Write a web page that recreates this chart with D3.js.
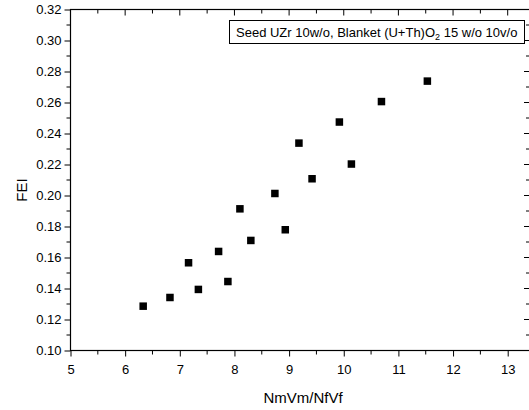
<!DOCTYPE html>
<html>
<head>
<meta charset="utf-8">
<script src="https://cdn.jsdelivr.net/npm/d3@7"></script>
<style>
  body { margin: 0; background: #fff; }
  text { font-family: "Liberation Sans", Arial, sans-serif; fill: #000; }
</style>
</head>
<body>
<div id="canvas"></div>
<script>
"use strict";

let svgWidth = 529;
let svgHeight = 410;

/* Data */
let ratioValues = [6.33, 6.82, 7.16, 7.34, 7.71, 7.88, 8.10, 8.30, 8.74, 8.93, 9.18, 9.42, 9.92, 10.14, 10.69, 11.53];
let feiValues = [0.1286, 0.1342, 0.1566, 0.1394, 0.1639, 0.1445, 0.1914, 0.1710, 0.2013, 0.1779, 0.2338, 0.2108, 0.2474, 0.2203, 0.2606, 0.2738];
let xTicks = [5, 6, 7, 8, 9, 10, 11, 12, 13];
let yTicks = [0.10, 0.12, 0.14, 0.16, 0.18, 0.20, 0.22, 0.24, 0.26, 0.28, 0.30, 0.32];

let points = ratioValues.map((v, i) => ({ x: v, y: feiValues[i] }));

let svg = d3.select("#canvas")
  .append("svg")
  .attr("width", svgWidth)
  .attr("height", svgHeight);

/* Scales */
let xScale = d3.scaleLinear()
  .domain([5, 13])
  .range([70.5, 507.7]);

let yScale = d3.scaleLinear()
  .domain([0.10, 0.32])
  .range([350.5, 9.5]);

let plotLeft = xScale(5);
let plotRight = 530;
let plotTop = yScale(0.32);
let plotBottom = yScale(0.10);

let xMinor = d3.range(5.5, 13.5, 1);
let yMinor = d3.range(0.11, 0.32, 0.02);

/* Bottom axis */
let xAxis = d3.axisBottom(xScale)
  .tickValues(xTicks)
  .tickFormat(d3.format("d"))
  .tickSizeInner(6)
  .tickSizeOuter(0)
  .tickPadding(8);

let gx = svg.append("g")
  .attr("transform", `translate(0,${plotBottom})`)
  .call(xAxis);
gx.select(".domain").remove();
gx.selectAll("text").attr("font-size", "13px");

svg.append("g")
  .attr("transform", `translate(0,${plotBottom})`)
  .selectAll("line")
  .data(xMinor)
  .enter()
  .append("line")
  .attr("x1", d => xScale(d))
  .attr("x2", d => xScale(d))
  .attr("y1", 0)
  .attr("y2", 4)
  .attr("stroke", "#000");

/* Top axis, ticks pointing in */
let topTicks = xTicks.map(d => ({ v: d, len: 6 })).concat(xMinor.map(d => ({ v: d, len: 4 })));
svg.append("g")
  .selectAll("line")
  .data(topTicks)
  .enter()
  .append("line")
  .attr("x1", d => xScale(d.v))
  .attr("x2", d => xScale(d.v))
  .attr("y1", plotTop)
  .attr("y2", d => plotTop + d.len)
  .attr("stroke", "#000");

/* Left axis */
let yAxis = d3.axisLeft(yScale)
  .tickValues(yTicks)
  .tickFormat(d3.format(".2f"))
  .tickSizeInner(6)
  .tickSizeOuter(0)
  .tickPadding(3);

let gy = svg.append("g")
  .attr("transform", `translate(${plotLeft},0)`)
  .call(yAxis);
gy.select(".domain").remove();
gy.selectAll("text").attr("font-size", "13px");

svg.append("g")
  .attr("transform", `translate(${plotLeft},0)`)
  .selectAll("line")
  .data(yMinor)
  .enter()
  .append("line")
  .attr("x1", -4)
  .attr("x2", 0)
  .attr("y1", d => yScale(d))
  .attr("y2", d => yScale(d))
  .attr("stroke", "#000");

/* Right axis, ticks pointing in */
let rightTicks = yTicks.map(d => ({ v: d, len: 6 })).concat(yMinor.map(d => ({ v: d, len: 4 })));
svg.append("g")
  .selectAll("line")
  .data(rightTicks)
  .enter()
  .append("line")
  .attr("x1", plotRight)
  .attr("x2", d => plotRight - d.len)
  .attr("y1", d => yScale(d.v))
  .attr("y2", d => yScale(d.v))
  .attr("stroke", "#000");

/* Frame */
svg.append("rect")
  .attr("x", plotLeft)
  .attr("y", plotTop)
  .attr("width", plotRight - plotLeft)
  .attr("height", plotBottom - plotTop)
  .attr("fill", "none")
  .attr("stroke", "#000")
  .attr("stroke-width", 1.2);

/* Points */
let mark = 7.5;
svg.append("g")
  .selectAll("rect")
  .data(points)
  .enter()
  .append("rect")
  .attr("x", d => xScale(d.x) - mark / 2)
  .attr("y", d => yScale(d.y) - mark / 2)
  .attr("width", mark)
  .attr("height", mark)
  .attr("fill", "#000");

/* Axis titles */
svg.append("text")
  .attr("x", 303)
  .attr("y", 403)
  .attr("text-anchor", "middle")
  .attr("font-size", "15px")
  .text("NmVm/NfVf");

svg.append("text")
  .attr("transform", "translate(27,190) rotate(-90)")
  .attr("text-anchor", "middle")
  .attr("font-size", "15px")
  .text("FEI");

/* Legend */
svg.append("rect")
  .attr("x", 229.5)
  .attr("y", 20.5)
  .attr("width", 295)
  .attr("height", 23)
  .attr("fill", "#fff")
  .attr("stroke", "#000");

let legendText = svg.append("text")
  .attr("x", 236)
  .attr("y", 37)
  .attr("font-size", "13px");
legendText.append("tspan").text("Seed UZr 10w/o, Blanket (U+Th)O");
legendText.append("tspan").attr("font-size", "9px").attr("dy", 3).text("2");
legendText.append("tspan").attr("dy", -3).text(" 15 w/o 10v/o");
</script>
</body>
</html>
